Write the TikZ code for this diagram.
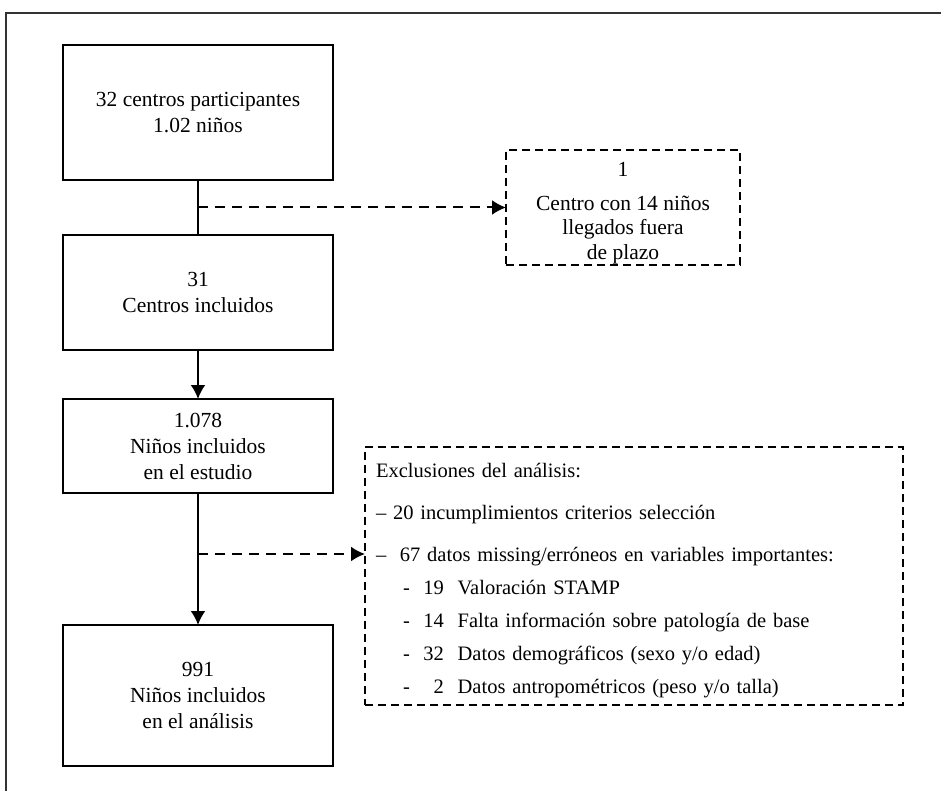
\documentclass[tikz,border=0pt]{standalone}
\usepackage{fontspec}
\setmainfont{Liberation Serif}
\usetikzlibrary{arrows.meta}
\begin{document}
\begin{tikzpicture}[x=1pt,y=-1pt,inner sep=0pt,outer sep=0pt,line width=2pt,
>={Latex[length=14pt,width=15pt]},
flowbox/.style={draw,rectangle,minimum width=270pt,align=center,font=\fontsize{21.5}{26}\selectfont},
dashbox/.style={draw,rectangle,dash pattern=on 8pt off 5pt,line width=1.8pt,font=\fontsize{21.5}{24.5}\selectfont},
dasharrow/.style={->,dash pattern=on 10pt off 7pt}]
\useasboundingbox (0,0) rectangle (941,791);
\draw[line width=1.2pt,black!80] (6,791) -- (6,13) -- (941,13);
\draw (198,112.5) node[flowbox,minimum height=135pt] (centros) {32 centros participantes\\1.02 niños};
\draw (198,292.5) node[flowbox,minimum height=115pt] (incl) {31\\Centros incluidos};
\draw (198,446) node[flowbox,minimum height=94pt] (estudio) {1.078\\Niños incluidos\\en el estudio};
\draw (198,695.5) node[flowbox,minimum height=141pt] (analisis) {991\\Niños incluidos\\en el análisis};
\draw (623,207.5) node[dashbox,minimum width=234pt,minimum height=115pt,align=center] (fuera) {\rule{0pt}{26pt}1\\[9pt]Centro con 14 niños\\llegados fuera\\de plazo};
\draw (365,447) node[dashbox,anchor=north west,minimum width=538pt,minimum height=258pt,inner xsep=11pt,text width=516pt,align=left,font=\fontsize{20.5}{33}\selectfont] (excl) {\rule{0pt}{24pt}Exclusiones del análisis:\\[9pt]
– 20 incumplimientos criterios selección\\[9pt]
–\ \ 67 datos missing/erróneos en variables importantes:\\
\hspace*{27pt}-\ \ 19\ \ Valoración STAMP\\
\hspace*{27pt}-\ \ 14\ \ Falta información sobre patología de base\\
\hspace*{27pt}-\ \ 32\ \ Datos demográficos (sexo y/o edad)\\
\hspace*{27pt}-\ \ \phantom{3}2\ \ Datos antropométricos (peso y/o talla)};
\draw (centros.south) -- (incl.north);
\draw[dasharrow] (centros.south) ++(0,27.5) coordinate (sep1) -- (sep1 -| fuera.west);
\draw[->] (incl.south) -- (estudio.north);
\draw[->] (estudio.south) -- (analisis.north);
\draw[dasharrow] (estudio.south) ++(0,61) coordinate (sep2) -- (sep2 -| excl.west);
\end{tikzpicture}
\end{document}
